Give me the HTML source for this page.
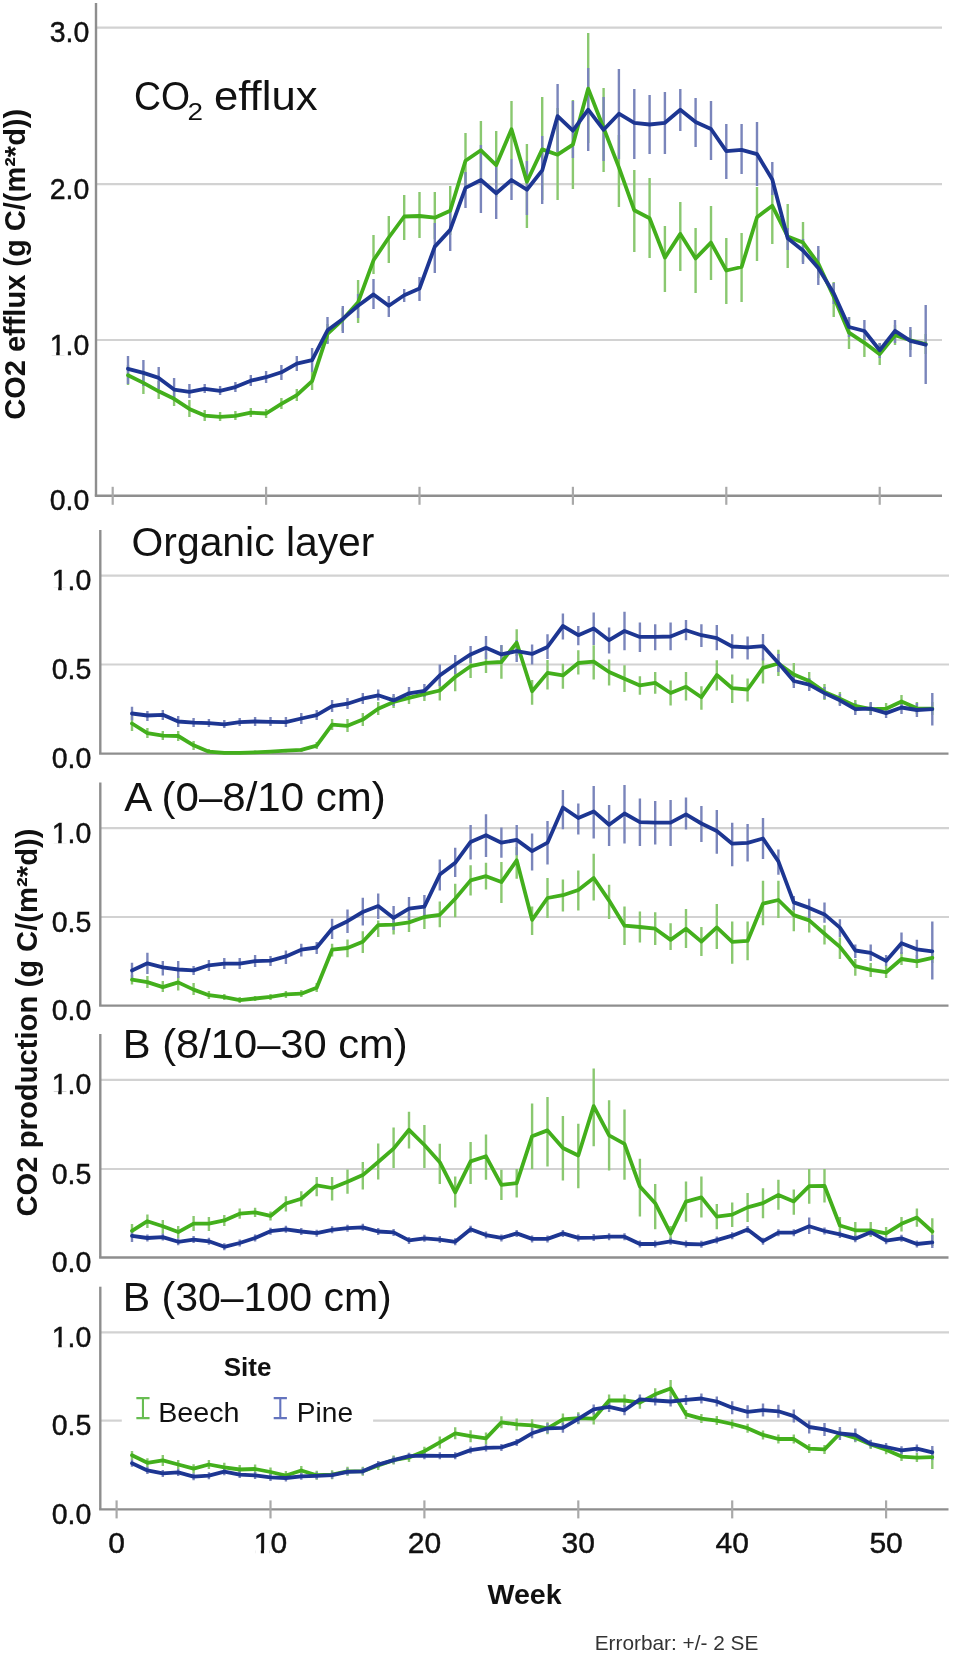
<!DOCTYPE html>
<html><head><meta charset="utf-8">
<style>
html,body{margin:0;padding:0;background:#fff;}
svg{display:block;will-change:transform;}
text{font-family:"Liberation Sans",sans-serif;fill:#111;}
.lab{font-size:30px;stroke:#111;stroke-width:0.45px;}
.ttl{font-size:40px;}
.yt{font-size:29px;font-weight:bold;}
.leg{font-size:26px;}
.wk{font-size:27px;font-weight:bold;}
.eb{font-size:21px;fill:#333;}
</style></head>
<body>
<svg width="955" height="1656" viewBox="0 0 955 1656">
<rect width="955" height="1656" fill="#fff"/>
<line x1="96.0" y1="27.7" x2="942" y2="27.7" stroke="#d2d2d2" stroke-width="2.2"/>
<line x1="96.0" y1="184.1" x2="942" y2="184.1" stroke="#d2d2d2" stroke-width="2.2"/>
<line x1="96.0" y1="340.0" x2="942" y2="340.0" stroke="#d2d2d2" stroke-width="2.2"/>
<line x1="96.0" y1="3" x2="96.0" y2="495.8" stroke="#8e8e8e" stroke-width="2.4"/>
<line x1="94.8" y1="495.8" x2="942" y2="495.8" stroke="#8e8e8e" stroke-width="2.4"/>
<line x1="112.7" y1="486.8" x2="112.7" y2="504.8" stroke="#a9a9a9" stroke-width="2.2"/>
<line x1="266.1" y1="486.8" x2="266.1" y2="504.8" stroke="#a9a9a9" stroke-width="2.2"/>
<line x1="419.5" y1="486.8" x2="419.5" y2="504.8" stroke="#a9a9a9" stroke-width="2.2"/>
<line x1="572.9" y1="486.8" x2="572.9" y2="504.8" stroke="#a9a9a9" stroke-width="2.2"/>
<line x1="726.3" y1="486.8" x2="726.3" y2="504.8" stroke="#a9a9a9" stroke-width="2.2"/>
<line x1="879.7" y1="486.8" x2="879.7" y2="504.8" stroke="#a9a9a9" stroke-width="2.2"/>
<text x="89.3" y="42.2" text-anchor="end" class="lab" textLength="39.6" lengthAdjust="spacingAndGlyphs">3.0</text>
<text x="89.3" y="198.6" text-anchor="end" class="lab" textLength="39.6" lengthAdjust="spacingAndGlyphs">2.0</text>
<text x="89.3" y="354.5" text-anchor="end" class="lab" textLength="39.6" lengthAdjust="spacingAndGlyphs">1.0</text>
<rect x="50.3" y="351.4" width="5.9" height="4.2" fill="#fff"/>
<rect x="59.7" y="351.4" width="5.8" height="4.2" fill="#fff"/>
<text x="89.3" y="510.3" text-anchor="end" class="lab" textLength="39.6" lengthAdjust="spacingAndGlyphs">0.0</text>
<path d="M128.0 365.0V385.0M143.4 371.0V394.0M158.7 381.0V399.0M174.1 390.0V406.0M189.4 400.0V417.0M204.7 410.0V421.0M220.1 412.0V421.0M235.4 411.0V420.0M250.8 408.0V417.0M266.1 409.0V418.0M281.4 398.0V409.0M296.8 389.0V401.0M312.1 372.0V390.0M327.5 324.0V343.0M342.8 308.0V331.0M358.1 280.0V323.0M373.5 235.0V274.0M388.8 216.0V263.0M404.2 195.0V240.0M419.5 192.0V238.0M434.8 192.0V239.0M450.2 186.0V235.0M465.5 133.0V188.0M480.9 121.0V178.0M496.2 131.0V197.0M511.5 101.0V159.0M526.9 144.0V228.0M542.2 97.0V200.0M557.6 108.0V200.0M572.9 100.0V189.0M588.2 33.0V143.0M603.6 88.0V172.0M618.9 135.0V207.0M634.3 170.0V252.0M649.6 178.0V258.0M664.9 226.0V292.0M680.3 202.0V271.0M695.6 228.0V293.0M711.0 206.0V280.0M726.3 238.0V304.0M741.6 233.0V302.0M757.0 187.0V261.0M772.3 190.0V244.0M787.7 204.0V268.0M803.0 222.0V262.0M818.3 250.0V278.0M833.7 282.0V317.0M849.0 317.0V349.0M864.4 335.0V357.0M879.7 343.0V365.0M895.0 325.0V345.0M910.4 330.0V350.0M925.7 334.0V354.0" stroke="#8ac870" stroke-width="2.4" fill="none"/>
<path d="M128.0 356.0V384.0M143.4 360.0V386.0M158.7 367.0V389.0M174.1 378.0V401.0M189.4 384.0V398.0M204.7 384.0V393.0M220.1 386.0V395.0M235.4 382.0V392.0M250.8 375.0V386.0M266.1 371.0V383.0M281.4 365.0V380.0M296.8 356.0V371.0M312.1 348.0V372.0M327.5 317.0V344.0M342.8 306.0V333.0M358.1 294.0V318.0M373.5 279.0V309.0M388.8 296.0V317.0M404.2 289.0V302.0M419.5 277.0V301.0M434.8 223.0V273.0M450.2 208.0V251.0M465.5 172.0V208.0M480.9 145.0V213.0M496.2 160.0V219.0M511.5 159.0V200.0M526.9 161.0V215.0M542.2 136.0V204.0M557.6 84.0V152.0M572.9 101.0V158.0M588.2 68.0V151.0M603.6 97.0V161.0M618.9 69.0V159.0M634.3 89.0V159.0M649.6 95.0V154.0M664.9 92.0V154.0M680.3 89.0V131.0M695.6 98.0V147.0M711.0 101.0V160.0M726.3 124.0V179.0M741.6 124.0V174.0M757.0 122.0V186.0M772.3 162.0V195.0M787.7 228.0V250.0M803.0 239.0V264.0M818.3 246.0V285.0M833.7 283.0V304.0M849.0 317.0V337.0M864.4 320.0V340.0M879.7 343.0V358.0M895.0 320.0V343.0M910.4 327.0V357.0M925.7 305.0V384.0" stroke="#7a85bb" stroke-width="2.4" fill="none"/>
<polyline points="128.0,375.3 143.4,382.9 158.7,391.3 174.1,398.8 189.4,408.9 204.7,415.6 220.1,416.9 235.4,415.9 250.8,412.6 266.1,413.5 281.4,403.8 296.8,395.1 312.1,381.1 327.5,333.8 342.8,319.5 358.1,302.3 373.5,260.3 388.8,237.5 404.2,216.5 419.5,216.0 434.8,217.7 450.2,210.7 465.5,160.8 480.9,150.3 496.2,165.2 511.5,129.3 526.9,181.8 542.2,149.4 557.6,154.7 572.9,144.7 588.2,88.6 603.6,128.0 618.9,167.4 634.3,210.3 649.6,218.2 664.9,257.6 680.3,233.9 695.6,258.4 711.0,242.6 726.3,270.5 741.6,267.0 757.0,217.2 772.3,205.8 787.7,236.4 803.0,242.5 818.3,263.5 833.7,296.8 849.0,332.7 864.4,342.8 879.7,354.1 895.0,335.2 910.4,340.3 925.7,344.0" stroke="#43af1c" stroke-width="3.8" fill="none" stroke-linejoin="round" stroke-linecap="round"/>
<polyline points="128.0,368.8 143.4,372.9 158.7,377.9 174.1,389.6 189.4,391.8 204.7,388.8 220.1,390.8 235.4,387.1 250.8,380.7 266.1,377.2 281.4,372.3 296.8,363.6 312.1,360.1 327.5,330.3 342.8,318.9 358.1,305.8 373.5,294.4 388.8,305.8 404.2,295.3 419.5,288.5 434.8,246.6 450.2,229.9 465.5,187.9 480.9,180.0 496.2,193.2 511.5,180.0 526.9,189.7 542.2,170.4 557.6,116.1 572.9,130.7 588.2,109.7 603.6,129.8 618.9,113.7 634.3,122.8 649.6,124.5 664.9,122.8 680.3,109.7 695.6,121.9 711.0,129.0 726.3,151.2 741.6,149.8 757.0,154.1 772.3,179.5 787.7,238.2 803.0,250.4 818.3,267.9 833.7,293.3 849.0,327.0 864.4,331.0 879.7,350.3 895.0,330.8 910.4,340.9 925.7,344.7" stroke="#1d3692" stroke-width="3.8" fill="none" stroke-linejoin="round" stroke-linecap="round"/>
<line x1="100.3" y1="575.7" x2="949" y2="575.7" stroke="#d2d2d2" stroke-width="2.2"/>
<line x1="100.3" y1="664.5" x2="949" y2="664.5" stroke="#d2d2d2" stroke-width="2.2"/>
<line x1="100.3" y1="530" x2="100.3" y2="753.6" stroke="#8e8e8e" stroke-width="2.4"/>
<line x1="99.1" y1="753.6" x2="948.5" y2="753.6" stroke="#8e8e8e" stroke-width="2.4"/>
<text x="91.3" y="590.2" text-anchor="end" class="lab" textLength="39.6" lengthAdjust="spacingAndGlyphs">1.0</text>
<rect x="52.3" y="587.1" width="5.9" height="4.2" fill="#fff"/>
<rect x="61.7" y="587.1" width="5.8" height="4.2" fill="#fff"/>
<text x="91.3" y="679.0" text-anchor="end" class="lab" textLength="39.6" lengthAdjust="spacingAndGlyphs">0.5</text>
<text x="91.3" y="768.1" text-anchor="end" class="lab" textLength="39.6" lengthAdjust="spacingAndGlyphs">0.0</text>
<path d="M132.0 716.0V731.0M147.4 728.0V738.0M162.8 731.0V740.0M178.2 731.0V741.0M193.6 741.0V750.0M208.9 749.0V754.0M224.3 751.0V754.5M239.7 751.0V754.5M255.1 750.5V754.0M270.5 750.0V753.5M285.9 749.0V752.5M301.3 748.0V752.0M316.7 742.0V749.0M332.1 719.0V730.0M347.5 719.0V732.0M362.8 713.0V726.0M378.2 702.0V715.0M393.6 696.0V708.0M409.0 691.0V704.0M424.4 688.0V701.0M439.8 680.5V700.5M455.2 663.0V691.3M470.6 654.5V677.9M486.0 652.7V672.9M501.4 645.3V678.7M516.7 629.3V656.0M532.1 680.0V704.7M547.5 660.0V689.6M562.9 663.7V688.8M578.3 650.3V674.6M593.7 645.2V679.6M609.1 659.5V685.4M624.5 665.3V692.1M639.9 676.2V694.7M655.2 672.0V693.8M670.6 680.4V705.5M686.0 672.0V700.5M701.4 686.3V709.7M716.8 660.3V690.5M732.2 674.6V703.0M747.6 678.6V701.5M763.0 658.2V683.5M778.4 649.7V676.0M793.8 663.0V684.7M809.2 672.0V689.5M824.5 684.0V700.0M839.9 692.0V705.0M855.3 700.0V712.0M870.7 703.0V715.0M886.1 703.0V714.0M901.5 695.0V708.0M916.9 702.0V714.0M932.3 702.0V715.0" stroke="#8ac870" stroke-width="2.4" fill="none"/>
<path d="M132.0 706.8V720.2M147.4 711.0V721.0M162.8 710.0V720.0M178.2 716.0V727.0M193.6 718.0V727.0M208.9 719.0V727.0M224.3 720.0V728.0M239.7 718.0V726.0M255.1 717.0V726.0M270.5 717.0V726.0M285.9 717.0V727.0M301.3 713.0V724.0M316.7 710.0V720.0M332.1 700.0V712.0M347.5 698.0V709.0M362.8 693.0V704.0M378.2 689.5V700.4M393.6 694.0V706.0M409.0 687.0V699.0M424.4 684.0V697.0M439.8 664.5V686.0M455.2 655.0V674.0M470.6 646.0V663.0M486.0 636.0V659.0M501.4 645.0V664.0M516.7 640.0V662.0M532.1 644.4V664.5M547.5 634.3V659.0M562.9 613.4V639.4M578.3 626.0V645.2M593.7 612.6V645.0M609.1 627.6V653.6M624.5 611.7V650.3M639.9 622.6V652.0M655.2 624.3V650.3M670.6 622.6V650.3M686.0 620.1V640.2M701.4 624.3V647.0M716.8 625.1V650.3M732.2 634.3V658.6M747.6 636.5V659.4M763.0 634.0V660.6M778.4 654.0V672.0M793.8 674.0V688.0M809.2 678.0V691.0M824.5 687.0V699.0M839.9 694.0V706.0M855.3 703.0V715.0M870.7 702.0V715.0M886.1 708.0V718.0M901.5 701.0V714.0M916.9 703.0V717.0M932.3 693.0V725.6" stroke="#7a85bb" stroke-width="2.4" fill="none"/>
<polyline points="132.0,723.5 147.4,733.2 162.8,735.6 178.2,736.0 193.6,745.3 208.9,751.7 224.3,752.8 239.7,752.8 255.1,752.3 270.5,751.6 285.9,750.6 301.3,749.8 316.7,745.6 332.1,724.7 347.5,725.8 362.8,719.6 378.2,708.7 393.6,702.0 409.0,697.8 424.4,694.2 439.8,690.5 455.2,677.0 470.6,666.2 486.0,662.8 501.4,662.0 516.7,642.7 532.1,691.3 547.5,672.9 562.9,675.4 578.3,663.0 593.7,661.7 609.1,672.0 624.5,678.7 639.9,685.4 655.2,682.9 670.6,693.0 686.0,686.8 701.4,697.2 716.8,675.0 732.2,688.2 747.6,689.5 763.0,667.8 778.4,663.5 793.8,674.5 809.2,681.0 824.5,691.9 839.9,698.6 855.3,705.9 870.7,709.2 886.1,708.7 901.5,701.5 916.9,708.3 932.3,708.7" stroke="#43af1c" stroke-width="3.8" fill="none" stroke-linejoin="round" stroke-linecap="round"/>
<polyline points="132.0,713.5 147.4,715.5 162.8,714.8 178.2,721.5 193.6,722.7 208.9,723.2 224.3,724.3 239.7,722.2 255.1,721.5 270.5,721.8 285.9,722.1 301.3,718.5 316.7,715.1 332.1,706.2 347.5,703.7 362.8,698.7 378.2,695.3 393.6,700.4 409.0,693.3 424.4,690.8 439.8,675.4 455.2,664.5 470.6,654.4 486.0,647.7 501.4,654.4 516.7,651.1 532.1,653.9 547.5,646.9 562.9,626.0 578.3,635.2 593.7,628.5 609.1,640.2 624.5,631.0 639.9,636.9 655.2,636.9 670.6,636.5 686.0,630.2 701.4,635.2 716.8,638.2 732.2,646.5 747.6,647.3 763.0,646.1 778.4,663.0 793.8,681.0 809.2,684.7 824.5,693.1 839.9,700.3 855.3,709.2 870.7,708.7 886.1,713.1 901.5,707.5 916.9,710.0 932.3,709.2" stroke="#1d3692" stroke-width="3.8" fill="none" stroke-linejoin="round" stroke-linecap="round"/>
<line x1="100.3" y1="828.2" x2="949" y2="828.2" stroke="#d2d2d2" stroke-width="2.2"/>
<line x1="100.3" y1="917.0" x2="949" y2="917.0" stroke="#d2d2d2" stroke-width="2.2"/>
<line x1="100.3" y1="782.5" x2="100.3" y2="1005.6" stroke="#8e8e8e" stroke-width="2.4"/>
<line x1="99.1" y1="1005.6" x2="948.5" y2="1005.6" stroke="#8e8e8e" stroke-width="2.4"/>
<text x="91.3" y="842.7" text-anchor="end" class="lab" textLength="39.6" lengthAdjust="spacingAndGlyphs">1.0</text>
<rect x="52.3" y="839.6" width="5.9" height="4.2" fill="#fff"/>
<rect x="61.7" y="839.6" width="5.8" height="4.2" fill="#fff"/>
<text x="91.3" y="931.5" text-anchor="end" class="lab" textLength="39.6" lengthAdjust="spacingAndGlyphs">0.5</text>
<text x="91.3" y="1020.1" text-anchor="end" class="lab" textLength="39.6" lengthAdjust="spacingAndGlyphs">0.0</text>
<path d="M132.0 975.0V984.6M147.4 976.0V988.0M162.8 981.0V992.0M178.2 976.0V990.5M193.6 983.0V995.0M208.9 991.0V999.0M224.3 994.0V1000.0M239.7 997.0V1003.0M255.1 996.0V1001.0M270.5 994.0V1000.0M285.9 991.0V998.0M301.3 990.0V997.0M316.7 983.0V992.0M332.1 943.8V956.4M347.5 939.6V957.2M362.8 931.3V953.0M378.2 920.4V937.1M393.6 915.0V934.6M409.0 913.0V932.0M424.4 905.0V929.0M439.8 901.4V927.3M455.2 883.8V917.3M470.6 865.3V895.5M486.0 862.8V889.6M501.4 862.0V903.0M516.7 847.0V878.7M532.1 906.4V934.9M547.5 877.9V918.1M562.9 879.6V911.4M578.3 870.4V910.6M593.7 853.7V900.6M609.1 884.7V919.0M624.5 906.4V945.0M639.9 911.5V942.5M655.2 912.3V945.0M670.6 923.2V950.0M686.0 909.0V948.0M701.4 927.0V956.0M716.8 904.0V949.0M732.2 921.6V963.8M747.6 921.6V960.2M763.0 880.7V925.2M778.4 880.7V918.0M793.8 907.2V931.3M809.2 909.6V932.5M824.5 925.2V944.5M839.9 937.3V959.0M855.3 959.0V975.8M870.7 963.0V977.0M886.1 966.0V978.0M901.5 952.0V965.0M916.9 955.0V968.0M932.3 953.0V963.0" stroke="#8ac870" stroke-width="2.4" fill="none"/>
<path d="M132.0 962.8V977.9M147.4 952.8V974.0M162.8 961.1V975.4M178.2 961.0V978.0M193.6 966.0V975.0M208.9 960.0V971.0M224.3 958.0V969.0M239.7 958.0V969.0M255.1 955.0V967.0M270.5 956.0V966.0M285.9 950.5V964.0M301.3 943.8V956.4M316.7 942.0V954.0M332.1 918.7V939.0M347.5 909.5V933.0M362.8 897.7V925.4M378.2 893.6V919.0M393.6 906.0V930.0M409.0 897.0V920.0M424.4 895.0V918.0M439.8 859.5V890.5M455.2 847.7V877.0M470.6 825.1V859.5M486.0 814.2V857.0M501.4 827.6V857.8M516.7 825.1V855.3M532.1 833.5V870.4M547.5 821.0V864.5M562.9 790.0V829.3M578.3 803.4V834.4M593.7 786.0V838.6M609.1 805.0V846.1M624.5 785.0V843.6M639.9 798.4V846.1M655.2 800.9V844.4M670.6 800.0V846.1M686.0 797.5V829.4M701.4 805.9V841.9M716.8 810.1V853.7M732.2 822.7V866.2M747.6 824.1V861.4M763.0 818.0V859.0M778.4 849.4V874.7M793.8 896.0V910.0M809.2 898.7V918.0M824.5 902.4V922.8M839.9 919.2V937.0M855.3 944.5V958.0M870.7 944.5V961.0M886.1 955.0V966.0M901.5 932.5V954.1M916.9 939.7V959.0M932.3 921.6V979.4" stroke="#7a85bb" stroke-width="2.4" fill="none"/>
<polyline points="132.0,979.6 147.4,982.1 162.8,987.1 178.2,982.4 193.6,989.6 208.9,995.2 224.3,997.2 239.7,1000.2 255.1,998.5 270.5,996.8 285.9,994.4 301.3,993.7 316.7,987.7 332.1,949.7 347.5,948.0 362.8,941.8 378.2,925.1 393.6,924.6 409.0,922.4 424.4,917.0 439.8,914.8 455.2,898.8 470.6,880.4 486.0,876.2 501.4,882.1 516.7,860.3 532.1,919.8 547.5,898.0 562.9,895.2 578.3,890.0 593.7,878.0 609.1,900.6 624.5,925.7 639.9,927.0 655.2,928.7 670.6,939.9 686.0,928.7 701.4,941.6 716.8,927.4 732.2,941.8 747.6,940.9 763.0,903.6 778.4,900.0 793.8,915.1 809.2,920.4 824.5,933.7 839.9,946.9 855.3,966.2 870.7,969.8 886.1,972.2 901.5,959.0 916.9,961.4 932.3,957.8" stroke="#43af1c" stroke-width="3.8" fill="none" stroke-linejoin="round" stroke-linecap="round"/>
<polyline points="132.0,970.4 147.4,963.3 162.8,967.3 178.2,969.5 193.6,970.4 208.9,965.3 224.3,963.7 239.7,963.7 255.1,961.1 270.5,960.7 285.9,956.4 301.3,949.7 316.7,947.5 332.1,928.7 347.5,921.2 362.8,912.0 378.2,906.1 393.6,917.9 409.0,908.6 424.4,906.6 439.8,874.6 455.2,862.8 470.6,841.9 486.0,835.2 501.4,842.7 516.7,839.9 532.1,851.1 547.5,842.7 562.9,807.5 578.3,818.0 593.7,811.4 609.1,824.8 624.5,813.5 639.9,822.2 655.2,822.7 670.6,822.7 686.0,814.3 701.4,823.5 716.8,831.0 732.2,843.7 747.6,842.9 763.0,838.5 778.4,861.4 793.8,902.4 809.2,907.9 824.5,914.4 839.9,927.6 855.3,950.5 870.7,952.9 886.1,960.9 901.5,943.3 916.9,949.3 932.3,951.3" stroke="#1d3692" stroke-width="3.8" fill="none" stroke-linejoin="round" stroke-linecap="round"/>
<line x1="100.3" y1="1079.9" x2="949" y2="1079.9" stroke="#d2d2d2" stroke-width="2.2"/>
<line x1="100.3" y1="1169.0" x2="949" y2="1169.0" stroke="#d2d2d2" stroke-width="2.2"/>
<line x1="100.3" y1="1034" x2="100.3" y2="1257.5" stroke="#8e8e8e" stroke-width="2.4"/>
<line x1="99.1" y1="1257.5" x2="948.5" y2="1257.5" stroke="#8e8e8e" stroke-width="2.4"/>
<text x="91.3" y="1094.4" text-anchor="end" class="lab" textLength="39.6" lengthAdjust="spacingAndGlyphs">1.0</text>
<rect x="52.3" y="1091.3" width="5.9" height="4.2" fill="#fff"/>
<rect x="61.7" y="1091.3" width="5.8" height="4.2" fill="#fff"/>
<text x="91.3" y="1183.5" text-anchor="end" class="lab" textLength="39.6" lengthAdjust="spacingAndGlyphs">0.5</text>
<text x="91.3" y="1272.0" text-anchor="end" class="lab" textLength="39.6" lengthAdjust="spacingAndGlyphs">0.0</text>
<path d="M132.0 1224.0V1237.0M147.4 1214.5V1227.9M162.8 1220.0V1233.7M178.2 1226.0V1238.0M193.6 1216.0V1231.0M208.9 1217.0V1231.0M224.3 1215.0V1226.0M239.7 1208.6V1218.7M255.1 1207.8V1217.0M270.5 1211.4V1220.6M285.9 1196.3V1211.4M301.3 1191.3V1206.4M316.7 1177.0V1196.3M332.1 1177.0V1200.5M347.5 1169.5V1193.8M362.8 1162.0V1189.6M378.2 1143.6V1179.6M393.6 1127.6V1167.9M409.0 1111.7V1148.6M424.4 1125.0V1168.0M439.8 1143.8V1184.0M455.2 1176.4V1207.4M470.6 1142.1V1184.0M486.0 1134.6V1179.8M501.4 1169.7V1199.9M516.7 1168.9V1197.4M532.1 1103.6V1168.9M547.5 1096.9V1166.4M562.9 1116.1V1180.6M578.3 1123.7V1188.2M593.7 1068.4V1146.3M609.1 1100.2V1170.6M624.5 1109.4V1179.8M639.9 1158.8V1216.6M655.2 1184.0V1229.2M670.6 1226.0V1240.0M686.0 1181.5V1221.7M701.4 1176.4V1217.5M716.8 1204.1V1229.2M732.2 1202.5V1227.0M747.6 1193.0V1221.9M763.0 1188.2V1218.3M778.4 1179.7V1209.8M793.8 1189.4V1214.7M809.2 1168.9V1203.8M824.5 1168.9V1202.6M839.9 1217.0V1231.5M855.3 1222.0V1237.0M870.7 1222.0V1237.0M886.1 1227.0V1237.0M901.5 1217.0V1231.5M916.9 1208.6V1226.7M932.3 1218.3V1246.0" stroke="#8ac870" stroke-width="2.4" fill="none"/>
<path d="M132.0 1230.0V1242.0M147.4 1234.5V1241.5M162.8 1233.6V1240.6M178.2 1238.3V1245.3M193.6 1236.1V1243.1M208.9 1237.8V1244.8M224.3 1243.3V1250.3M239.7 1239.5V1246.5M255.1 1234.5V1241.5M270.5 1227.7V1234.7M285.9 1225.8V1232.8M301.3 1228.0V1235.0M316.7 1229.7V1236.7M332.1 1226.3V1233.3M347.5 1224.7V1231.7M362.8 1223.8V1230.8M378.2 1228.0V1235.0M393.6 1228.9V1235.9M409.0 1236.9V1243.9M424.4 1234.8V1241.8M439.8 1236.1V1243.1M455.2 1238.3V1245.3M470.6 1225.7V1232.7M486.0 1231.6V1238.6M501.4 1234.4V1241.4M516.7 1229.9V1236.9M532.1 1235.4V1242.4M547.5 1235.4V1242.4M562.9 1229.9V1236.9M578.3 1234.4V1241.4M593.7 1234.1V1241.1M609.1 1233.2V1240.2M624.5 1233.2V1240.2M639.9 1240.5V1247.5M655.2 1240.5V1247.5M670.6 1237.8V1244.8M686.0 1240.5V1247.5M701.4 1240.8V1247.8M716.8 1236.6V1243.6M732.2 1232.2V1239.2M747.6 1226.1V1233.1M763.0 1237.7V1244.7M778.4 1229.2V1236.2M793.8 1229.2V1236.2M809.2 1217.5V1234.0M824.5 1227.5V1234.5M839.9 1230.9V1237.9M855.3 1235.2V1242.2M870.7 1228.7V1235.7M886.1 1237.2V1244.2M901.5 1234.8V1241.8M916.9 1240.5V1247.5M932.3 1235.0V1248.0" stroke="#7a85bb" stroke-width="2.4" fill="none"/>
<polyline points="132.0,1230.8 147.4,1221.2 162.8,1226.2 178.2,1232.1 193.6,1223.7 208.9,1223.7 224.3,1220.4 239.7,1213.7 255.1,1212.3 270.5,1215.9 285.9,1203.5 301.3,1198.8 316.7,1185.4 332.1,1188.0 347.5,1181.8 362.8,1175.1 378.2,1162.0 393.6,1148.6 409.0,1129.8 424.4,1145.0 439.8,1162.2 455.2,1192.4 470.6,1161.4 486.0,1156.3 501.4,1184.8 516.7,1183.1 532.1,1136.2 547.5,1130.4 562.9,1148.0 578.3,1155.5 593.7,1106.1 609.1,1135.4 624.5,1143.8 639.9,1186.5 655.2,1203.2 670.6,1233.4 686.0,1201.6 701.4,1197.4 716.8,1216.6 732.2,1214.6 747.6,1207.4 763.0,1203.1 778.4,1194.9 793.8,1201.4 809.2,1186.2 824.5,1185.8 839.9,1225.5 855.3,1230.3 870.7,1230.3 886.1,1233.4 901.5,1223.8 916.9,1217.6 932.3,1231.5" stroke="#43af1c" stroke-width="3.8" fill="none" stroke-linejoin="round" stroke-linecap="round"/>
<polyline points="132.0,1235.8 147.4,1238.0 162.8,1237.1 178.2,1241.8 193.6,1239.6 208.9,1241.3 224.3,1246.8 239.7,1243.0 255.1,1238.0 270.5,1231.2 285.9,1229.3 301.3,1231.5 316.7,1233.2 332.1,1229.8 347.5,1228.2 362.8,1227.3 378.2,1231.5 393.6,1232.4 409.0,1240.4 424.4,1238.3 439.8,1239.6 455.2,1241.8 470.6,1229.2 486.0,1235.1 501.4,1237.9 516.7,1233.4 532.1,1238.9 547.5,1238.9 562.9,1233.4 578.3,1237.9 593.7,1237.6 609.1,1236.7 624.5,1236.7 639.9,1244.0 655.2,1244.0 670.6,1241.3 686.0,1244.0 701.4,1244.3 716.8,1240.1 732.2,1235.7 747.6,1229.6 763.0,1241.2 778.4,1232.7 793.8,1232.7 809.2,1226.2 824.5,1231.0 839.9,1234.4 855.3,1238.7 870.7,1232.2 886.1,1240.7 901.5,1238.3 916.9,1244.0 932.3,1242.4" stroke="#1d3692" stroke-width="3.8" fill="none" stroke-linejoin="round" stroke-linecap="round"/>
<line x1="100.3" y1="1332.3" x2="949" y2="1332.3" stroke="#d2d2d2" stroke-width="2.2"/>
<line x1="100.3" y1="1420.6" x2="121.8" y2="1420.6" stroke="#d2d2d2" stroke-width="2.2"/>
<line x1="373.1" y1="1420.6" x2="949" y2="1420.6" stroke="#d2d2d2" stroke-width="2.2"/>
<line x1="100.3" y1="1286.7" x2="100.3" y2="1509.4" stroke="#8e8e8e" stroke-width="2.4"/>
<line x1="99.1" y1="1509.4" x2="948.5" y2="1509.4" stroke="#8e8e8e" stroke-width="2.4"/>
<line x1="116.6" y1="1500.4" x2="116.6" y2="1518.4" stroke="#a9a9a9" stroke-width="2.2"/>
<line x1="270.5" y1="1500.4" x2="270.5" y2="1518.4" stroke="#a9a9a9" stroke-width="2.2"/>
<line x1="424.4" y1="1500.4" x2="424.4" y2="1518.4" stroke="#a9a9a9" stroke-width="2.2"/>
<line x1="578.3" y1="1500.4" x2="578.3" y2="1518.4" stroke="#a9a9a9" stroke-width="2.2"/>
<line x1="732.2" y1="1500.4" x2="732.2" y2="1518.4" stroke="#a9a9a9" stroke-width="2.2"/>
<line x1="886.1" y1="1500.4" x2="886.1" y2="1518.4" stroke="#a9a9a9" stroke-width="2.2"/>
<text x="91.3" y="1346.8" text-anchor="end" class="lab" textLength="39.6" lengthAdjust="spacingAndGlyphs">1.0</text>
<rect x="52.3" y="1343.7" width="5.9" height="4.2" fill="#fff"/>
<rect x="61.7" y="1343.7" width="5.8" height="4.2" fill="#fff"/>
<text x="91.3" y="1435.1" text-anchor="end" class="lab" textLength="39.6" lengthAdjust="spacingAndGlyphs">0.5</text>
<text x="91.3" y="1523.9" text-anchor="end" class="lab" textLength="39.6" lengthAdjust="spacingAndGlyphs">0.0</text>
<path d="M132.0 1451.0V1460.0M147.4 1458.3V1467.3M162.8 1455.0V1466.0M178.2 1460.0V1469.0M193.6 1464.2V1473.2M208.9 1460.0V1469.0M224.3 1462.8V1471.8M239.7 1465.0V1474.0M255.1 1464.5V1473.5M270.5 1467.5V1476.5M285.9 1471.0V1480.0M301.3 1466.0V1475.0M316.7 1470.7V1479.7M332.1 1470.2V1479.2M347.5 1466.8V1475.8M362.8 1466.8V1475.8M378.2 1460.9V1469.9M393.6 1455.6V1464.6M409.0 1452.9V1461.9M424.4 1446.7V1455.7M439.8 1436.4V1448.4M455.2 1427.3V1439.3M470.6 1430.2V1442.2M486.0 1432.4V1444.4M501.4 1416.3V1428.3M516.7 1418.4V1430.4M532.1 1419.3V1431.3M547.5 1422.3V1434.3M562.9 1413.4V1425.4M578.3 1412.2V1424.2M593.7 1412.6V1424.6M609.1 1394.5V1406.5M624.5 1394.5V1406.5M639.9 1396.7V1408.7M655.2 1388.3V1400.3M670.6 1380.0V1397.0M686.0 1409.9V1418.9M701.4 1414.1V1423.1M716.8 1416.1V1425.1M732.2 1419.5V1428.5M747.6 1423.7V1432.7M763.0 1430.4V1439.4M778.4 1434.5V1443.5M793.8 1434.5V1443.5M809.2 1444.1V1453.1M824.5 1444.9V1453.9M839.9 1429.0V1438.0M855.3 1433.3V1442.3M870.7 1440.0V1449.0M886.1 1445.3V1454.3M901.5 1452.1V1461.1M916.9 1453.1V1462.1M932.3 1449.8V1469.1" stroke="#8ac870" stroke-width="2.4" fill="none"/>
<path d="M132.0 1459.8V1466.8M147.4 1466.9V1473.9M162.8 1469.9V1476.9M178.2 1468.9V1475.9M193.6 1473.2V1480.2M208.9 1472.2V1479.2M224.3 1468.2V1475.2M239.7 1471.1V1478.1M255.1 1471.9V1478.9M270.5 1473.9V1480.9M285.9 1474.5V1481.5M301.3 1472.8V1479.8M316.7 1472.3V1479.3M332.1 1471.7V1478.7M347.5 1468.3V1475.3M362.8 1467.8V1474.8M378.2 1461.1V1468.1M393.6 1456.6V1463.6M409.0 1452.7V1459.7M424.4 1452.2V1459.2M439.8 1452.3V1459.3M455.2 1452.3V1459.3M470.6 1446.6V1453.6M486.0 1444.4V1451.4M501.4 1443.9V1450.9M516.7 1438.9V1445.9M532.1 1428.3V1438.3M547.5 1423.3V1433.3M562.9 1422.8V1432.8M578.3 1413.8V1423.8M593.7 1404.4V1414.4M609.1 1401.9V1411.9M624.5 1405.3V1415.3M639.9 1394.4V1404.4M655.2 1395.5V1405.5M670.6 1396.5V1406.5M686.0 1394.9V1404.9M701.4 1393.5V1403.5M716.8 1396.5V1406.5M732.2 1401.2V1414.2M747.6 1405.3V1418.3M763.0 1403.6V1416.6M778.4 1404.8V1417.8M793.8 1409.6V1422.6M809.2 1420.5V1433.5M824.5 1422.9V1435.9M839.9 1427.0V1440.0M855.3 1428.4V1441.4M870.7 1439.8V1447.8M886.1 1443.0V1451.0M901.5 1446.3V1454.3M916.9 1444.6V1452.6M932.3 1446.0V1460.0" stroke="#7a85bb" stroke-width="2.4" fill="none"/>
<polyline points="132.0,1455.3 147.4,1462.8 162.8,1460.3 178.2,1464.5 193.6,1468.7 208.9,1464.5 224.3,1467.3 239.7,1469.5 255.1,1469.0 270.5,1472.0 285.9,1475.5 301.3,1470.5 316.7,1475.2 332.1,1474.7 347.5,1471.3 362.8,1471.3 378.2,1465.4 393.6,1460.1 409.0,1457.4 424.4,1451.2 439.8,1442.4 455.2,1433.3 470.6,1436.2 486.0,1438.4 501.4,1422.3 516.7,1424.4 532.1,1425.3 547.5,1428.3 562.9,1419.4 578.3,1418.2 593.7,1418.6 609.1,1400.5 624.5,1400.5 639.9,1402.7 655.2,1394.3 670.6,1388.5 686.0,1414.4 701.4,1418.6 716.8,1420.6 732.2,1424.0 747.6,1428.2 763.0,1434.9 778.4,1439.0 793.8,1439.0 809.2,1448.6 824.5,1449.4 839.9,1433.5 855.3,1437.8 870.7,1444.5 886.1,1449.8 901.5,1456.6 916.9,1457.6 932.3,1457.1" stroke="#43af1c" stroke-width="3.8" fill="none" stroke-linejoin="round" stroke-linecap="round"/>
<polyline points="132.0,1463.3 147.4,1470.4 162.8,1473.4 178.2,1472.4 193.6,1476.7 208.9,1475.7 224.3,1471.7 239.7,1474.6 255.1,1475.4 270.5,1477.4 285.9,1478.0 301.3,1476.3 316.7,1475.8 332.1,1475.2 347.5,1471.8 362.8,1471.3 378.2,1464.6 393.6,1460.1 409.0,1456.2 424.4,1455.7 439.8,1455.8 455.2,1455.8 470.6,1450.1 486.0,1447.9 501.4,1447.4 516.7,1442.4 532.1,1433.3 547.5,1428.3 562.9,1427.8 578.3,1418.8 593.7,1409.4 609.1,1406.9 624.5,1410.3 639.9,1399.4 655.2,1400.5 670.6,1401.5 686.0,1399.9 701.4,1398.5 716.8,1401.5 732.2,1407.7 747.6,1411.8 763.0,1410.1 778.4,1411.3 793.8,1416.1 809.2,1427.0 824.5,1429.4 839.9,1433.5 855.3,1434.9 870.7,1443.8 886.1,1447.0 901.5,1450.3 916.9,1448.6 932.3,1452.3" stroke="#1d3692" stroke-width="3.8" fill="none" stroke-linejoin="round" stroke-linecap="round"/>
<text x="116.6" y="1553.2" text-anchor="middle" class="lab">0</text>
<text x="270.5" y="1553.2" text-anchor="middle" class="lab">10</text>
<rect x="255.3" y="1549.9" width="5.5" height="4.2" fill="#fff"/>
<rect x="264.0" y="1549.9" width="5.3" height="4.2" fill="#fff"/>
<text x="424.4" y="1553.2" text-anchor="middle" class="lab">20</text>
<text x="578.3" y="1553.2" text-anchor="middle" class="lab">30</text>
<text x="732.2" y="1553.2" text-anchor="middle" class="lab">40</text>
<text x="886.1" y="1553.2" text-anchor="middle" class="lab">50</text>
<text x="134" y="110.2" class="ttl" textLength="56" lengthAdjust="spacingAndGlyphs">CO</text>
<text x="187.6" y="120.2" class="ttl" style="font-size:23.6px" textLength="15.5" lengthAdjust="spacingAndGlyphs">2</text>
<text x="214" y="110.2" class="ttl" textLength="103.5" lengthAdjust="spacingAndGlyphs">efflux</text>
<text x="131.6" y="556.2" class="ttl" textLength="242.8" lengthAdjust="spacingAndGlyphs">Organic layer</text>
<text x="124.2" y="810.8" class="ttl" textLength="261.5" lengthAdjust="spacingAndGlyphs">A (0–8/10 cm)</text>
<text x="122.8" y="1058.3" class="ttl" textLength="284.9" lengthAdjust="spacingAndGlyphs">B (8/10–30 cm)</text>
<text x="122.8" y="1310.6" class="ttl" textLength="268.9" lengthAdjust="spacingAndGlyphs">B (30–100 cm)</text>
<text transform="translate(25.3,264.3) rotate(-90)" text-anchor="middle" class="yt">CO2 efflux (g C/(m²*d))</text>
<text transform="translate(37,1022.5) rotate(-90)" text-anchor="middle" class="yt" textLength="388" lengthAdjust="spacingAndGlyphs">CO2 production (g C/(m²*d))</text>
<text x="247.5" y="1375.9" text-anchor="middle" class="leg" font-weight="bold">Site</text>
<path d="M136.35 1398.1H149.54999999999998M136.35 1418.1H149.54999999999998M142.95 1398.1V1418.1" stroke="#68bd52" stroke-width="2.1" fill="none"/>
<text x="158.2" y="1421.5" class="leg" style="font-size:27.5px" textLength="81.4" lengthAdjust="spacingAndGlyphs">Beech</text>
<path d="M273.7 1398.1H286.90000000000003M273.7 1418.1H286.90000000000003M280.3 1398.1V1418.1" stroke="#6474be" stroke-width="2.1" fill="none"/>
<text x="296.8" y="1421.5" class="leg" style="font-size:27.5px" textLength="56.2" lengthAdjust="spacingAndGlyphs">Pine</text>
<text x="524.5" y="1604.2" text-anchor="middle" class="wk" textLength="74.1" lengthAdjust="spacingAndGlyphs">Week</text>
<text x="594.7" y="1650.4" class="eb" textLength="163.7" lengthAdjust="spacingAndGlyphs">Errorbar: +/- 2 SE</text>
</svg>
</body></html>
